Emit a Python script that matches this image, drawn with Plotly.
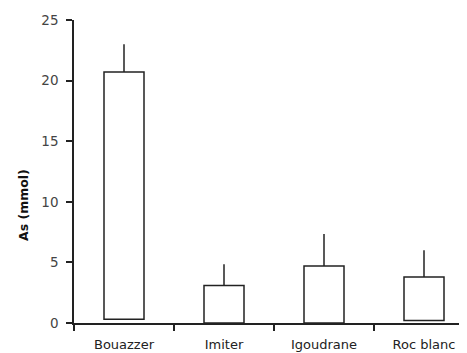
import plotly.graph_objects as go

categories = ["Bouazzer", "Imiter", "Igoudrane", "Roc blanc"]
bar_top = [20.7, 3.1, 4.7, 3.8]
bar_base = [0.3, 0.0, 0.0, 0.2]
err_up = [2.3, 1.75, 2.65, 2.2]
y_ticks = [0, 5, 10, 15, 20, 25]

heights = [t - b for t, b in zip(bar_top, bar_base)]
font = "DejaVu Sans, Verdana, sans-serif"

fig = go.Figure()
fig.add_trace(go.Bar(
    x=categories, y=heights, base=bar_base, width=0.4,
    marker=dict(color="white", line=dict(color="#222", width=1.5)),
    error_y=dict(type="data", symmetric=False, array=err_up,
                 arrayminus=[0] * 4, width=0, color="#222", thickness=1.5),
    showlegend=False,
))

xr = [-0.5, 3.43]
fig.update_layout(
    width=467, height=353,
    margin=dict(l=66, r=8, t=12, b=38),
    plot_bgcolor="white", paper_bgcolor="white",
    font=dict(family=font, size=13, color="#333"),
    xaxis=dict(type="category", categoryorder="array", categoryarray=categories,
               range=xr, showline=True, linecolor="#222", linewidth=1.5,
               ticks="outside", tickson="boundaries", ticklen=6, tickwidth=1.5,
               tickcolor="#222", showgrid=False, zeroline=False,
               ticklabelstandoff=9,
               tickfont=dict(size=13, color="#222")),
    yaxis=dict(range=[0, 25], tickvals=y_ticks, showline=True, linecolor="#222",
               linewidth=1.5, ticks="outside", ticklen=6, tickwidth=1.5,
               tickcolor="#222", showgrid=False, zeroline=False,
               ticklabelstandoff=5, automargin=False,
               tickfont=dict(size=13.5, color="#444")),
    xaxis2=dict(overlaying="x", anchor="y", range=xr,
                tickvals=[-0.5, 0.5, 1.5, 2.5], ticks="inside", ticklen=5,
                tickwidth=1.5, tickcolor="#222", showticklabels=False,
                showgrid=False, zeroline=False, showline=False),
    yaxis2=dict(overlaying="y", anchor="x", range=[0, 25], tickvals=y_ticks,
                ticks="inside", ticklen=4, tickwidth=1.5, tickcolor="#222",
                showticklabels=False, showgrid=False, zeroline=False,
                showline=False),
    annotations=[dict(text="<b>As (mmol)</b>", xref="paper", yref="paper",
                      x=-0.13, y=0.389, textangle=-90, showarrow=False,
                      xanchor="center", yanchor="middle",
                      font=dict(size=12.5, color="#111"))],
)

fig.write_html("out.html")
